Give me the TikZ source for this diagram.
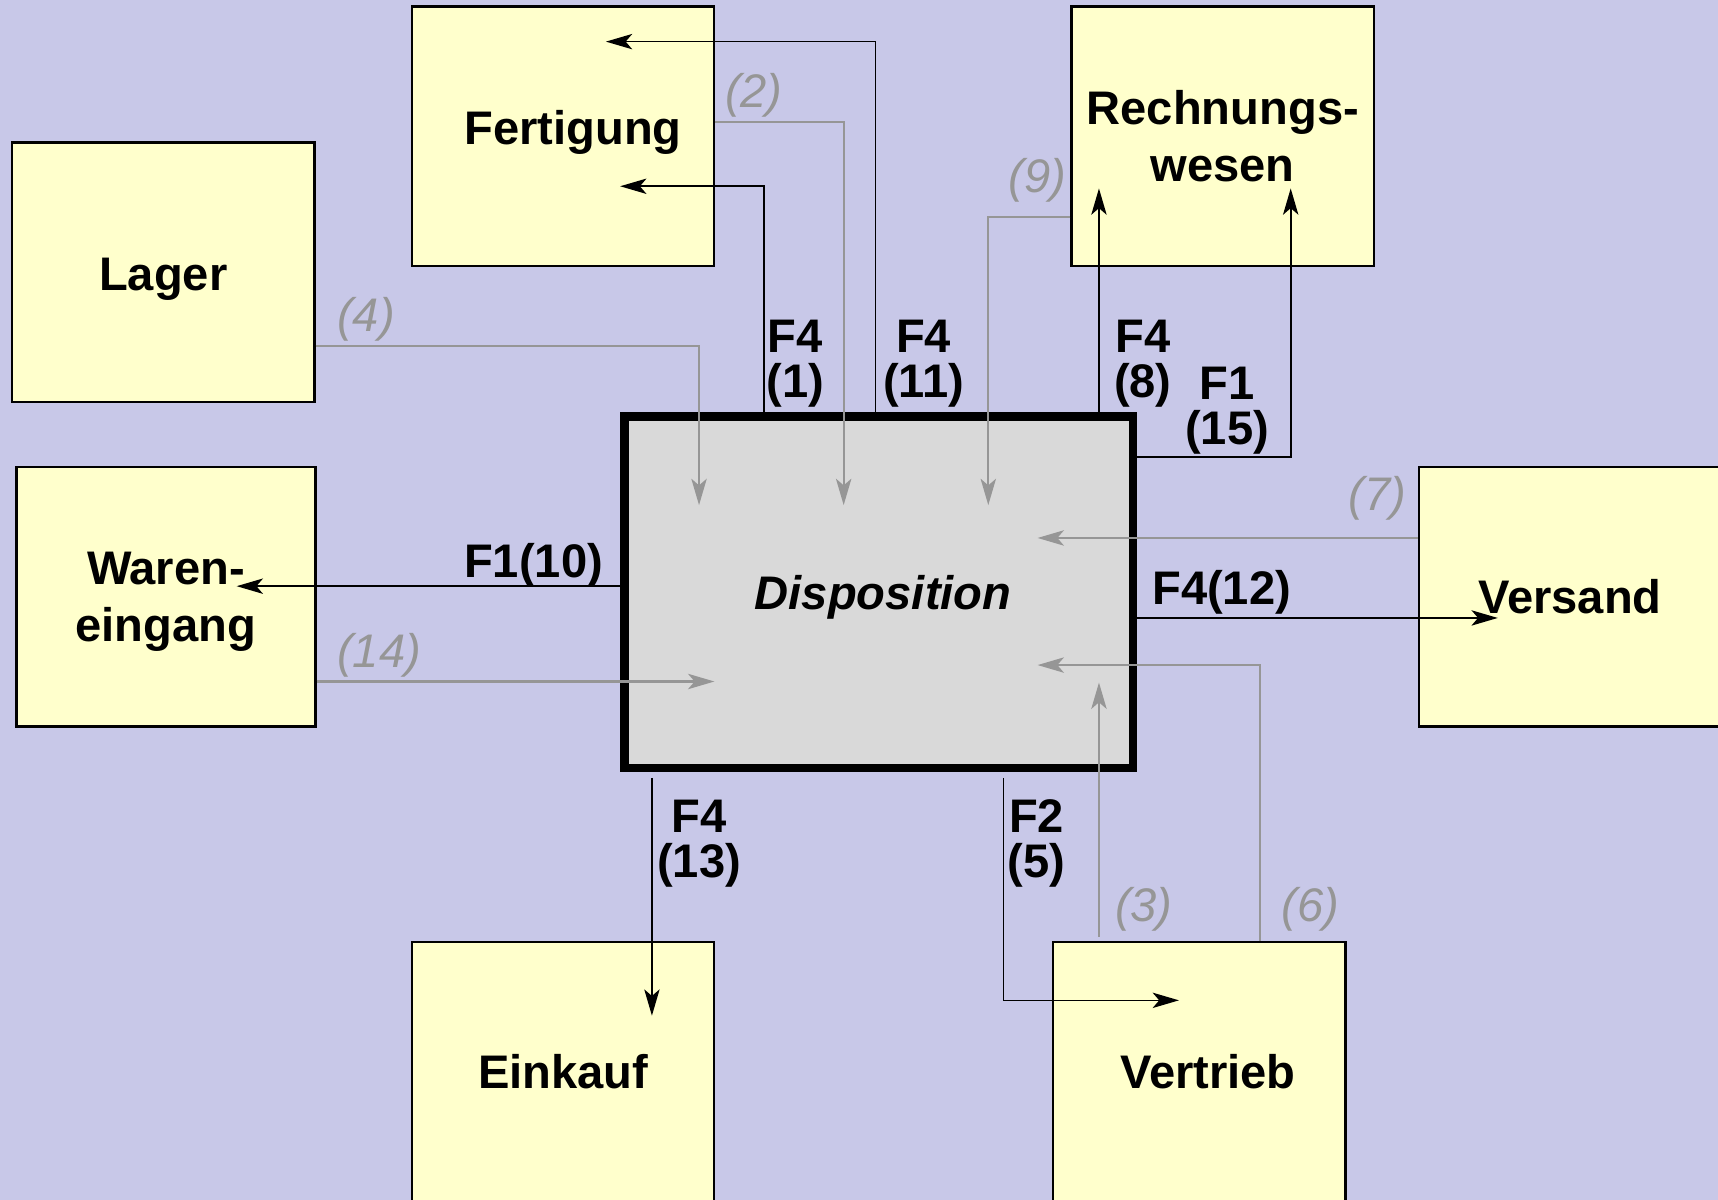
\documentclass[tikz,border=0pt]{standalone}
\usepackage{fontspec}
\setmainfont{Liberation Sans}
\usetikzlibrary{arrows.meta,calc}
\definecolor{bg}{RGB}{200,200,232}
\definecolor{boxy}{RGB}{255,255,204}
\definecolor{dispg}{RGB}{217,217,217}
\definecolor{gline}{RGB}{150,150,150}
\begin{document}
\begin{tikzpicture}[x=0.5pt,y=-0.5pt,
  box/.style={draw=black,fill=boxy,line width=1pt,minimum width=138pt,minimum height=118.5pt,inner sep=0pt,align=center,font=\fontsize{21.5}{26}\selectfont\bfseries},
  blk/.style={draw=black,line width=0.75pt,-{Stealth[length=12pt,width=7pt,inset=3pt]}},
  gry/.style={draw=gline,line width=1pt,-{Stealth[length=12pt,width=7pt,inset=3pt]}},
  blab/.style={font=\fontsize{21.5}{20.5}\selectfont\bfseries,align=center,inner sep=0pt},
  glab/.style={font=\fontsize{21.5}{26}\selectfont\itshape,text=gline,inner sep=0pt}]
\useasboundingbox (0,0) rectangle (1568,1095);
\fill[bg] (0,0) rectangle (1568,1095);
\clip (0,0) rectangle (1568,1095);

% boxes
\node[box] (fert) at (514,124.5) {\hspace{9pt}\raisebox{2pt}[\height][\depth]{Fertigung}};
\node[box] (lager) at (149,248.5) {\raisebox{-3pt}[\height][\depth]{Lager}};
\node[box] (rech) at (1116,124.5) {Rechnungs-\\wesen};
\node[box,minimum width=136.5pt] (waren) at (151.5,544.5) {\raisebox{-2.5pt}[\height][\depth]{\vbox{\halign{\hfil#\hfil\cr Waren-\cr eingang\cr}}}};
\node[box] (vers) at (1433,544.5) {Versand};
\node[box] (eink) at (514,978.5) {Einkauf};
\node[box,minimum width=133.5pt] (vert) at (1094.5,978.5) {\hspace{8pt}Vertrieb};
\node[draw=black,line width=4pt,fill=dispg,minimum width=232pt,minimum height=160.5pt,inner sep=0pt,font=\fontsize{21.5}{26}\selectfont\bfseries\itshape] (disp) at (802,540.5) {\hspace{4pt}\raisebox{-2.5pt}[\height][\depth]{Disposition}};

% coordinates
\coordinate (t1) at (566,170);
\coordinate (x1) at (697,0);
\coordinate (t2) at (553,38);
\coordinate (x2) at (799,0);
\coordinate (t3) at (1003,172);
\coordinate (t4) at (1178,172);
\coordinate (y4) at (0,417);
\coordinate (t5) at (216,535);
\coordinate (t6) at (1367,564);
\coordinate (t7) at (595,927);
\coordinate (t8) at (1076,913);
\coordinate (x8) at (916,0);
\coordinate (g2) at (770,461);
\coordinate (y2) at (0,111);
\coordinate (g4) at (638,461);
\coordinate (y4g) at (0,316);
\coordinate (g9) at (902,461);
\coordinate (y9) at (0,198);
\coordinate (g7) at (947,491);
\coordinate (g14) at (652,622);
\coordinate (g3) at (1003,623);
\coordinate (g6) at (947,607);
\coordinate (x6) at (1150,0);

% black connectors
\draw[blk] (disp.north -| x1) |- (t1);
\draw[blk] (disp.north -| x2) |- (t2);
\draw[blk] (disp.north -| t3) -- (t3);
\draw[blk] (disp.east |- y4) -| (t4);
\draw[blk] (disp.west |- t5) -- (t5);
\draw[blk] (disp.east |- t6) -- (t6);
\draw[blk] ($(disp.south -| t7)+(0,5)$) -- (t7);
\draw[blk] ($(disp.south -| x8)+(0,5)$) |- (t8);

% grey connectors
\draw[gry] (fert.east |- y2) -| (g2);
\draw[gry] (lager.east |- y4g) -| (g4);
\draw[gry] (rech.west |- y9) -| (g9);
\draw[gry] (vers.west |- g7) -- (g7);
\draw[gry] (waren.east |- g14) -- (g14);
\draw[gry] ($(vert.north -| g3)+(0,-4)$) -- (g3);
\draw[gry] (vert.north -| x6) |- (g6);

% black labels
\node[blab] (l1) at (726,332) {F4\\(1)};
\node[blab] (l11) at (843,332) {F4\\(11)};
\node[blab] (l8) at (1043,332) {F4\\(8)};
\node[blab] (l15) at (1120,375) {F1\\(15)};
\node[blab] (l10) at (487,516) {F1(10)};
\node[blab] (l12) at (1115,541) {F4(12)};
\node[blab] (l13) at (638,770) {F4\\(13)};
\node[blab] (l5) at (946,770) {F2\\(5)};

% grey labels
\node[glab] (n2) at (688,87) {(2)};
\node[glab] (n4) at (334,291) {(4)};
\node[glab] (n9) at (947,165) {(9)};
\node[glab] (n7) at (1257,455) {(7)};
\node[glab] (n14) at (346,598) {(14)};
\node[glab] (n3) at (1044,830) {(3)};
\node[glab] (n6) at (1196,830) {(6)};
\end{tikzpicture}
\end{document}
